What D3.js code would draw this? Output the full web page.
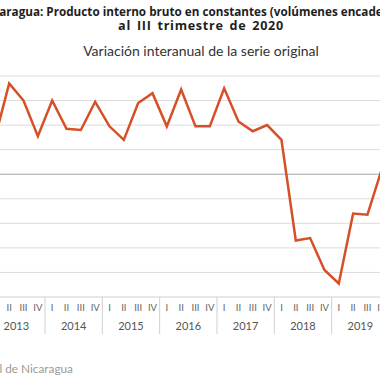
<!DOCTYPE html>
<html>
<head>
<meta charset="utf-8">
<script src="https://cdn.jsdelivr.net/npm/d3@7"></script>
<style>
  body { margin: 0; background: #fff; }
  svg { display: block; font-family: Lato, "Open Sans", sans-serif; }
</style>
</head>
<body>
<svg id="chart"></svg>
<script>
// données
var years = ["2013", "2014", "2015", "2016", "2017", "2018", "2019"];
var quarters = ["I", "II", "III", "IV"];
// variación interanual (%), 2013-I a 2019-IV
var values = [
  2.9, 7.4, 6.0, 3.1,
  6.0, 3.7, 3.6, 5.9,
  3.9, 2.8, 5.8, 6.6,
  3.9, 6.9, 3.9, 3.9,
  7.0, 4.3, 3.5, 4.0,
  2.8, -5.4, -5.2, -7.8,
  -8.9, -3.2, -3.3, 0.4
];
var yTicks = [-8, -6, -4, -2, 0, 2, 4, 6, 8];

var width = 380, height = 380;
var svg = d3.select("#chart").attr("width", width).attr("height", height);

// catégories trimestrielles
var keys = [];
years.forEach(function (yr) {
  quarters.forEach(function (q) { keys.push(yr + "-" + q); });
});
var data = keys.map(function (k, i) { return { key: k, value: values[i] }; });

// échelles
var step = 14.33;
var x = d3.scaleBand().domain(keys).range([-12.3, -12.3 + keys.length * step]);
var y = d3.scaleLinear().domain([-10, 8]).range([297, 76]);

// titres
svg.append("text")
  .attr("x", 201).attr("y", 16)
  .attr("text-anchor", "middle")
  .attr("font-family", "'Open Sans', sans-serif")
  .attr("font-size", 11.7).attr("font-weight", "bold").attr("fill", "#1e1e1e")
  .text("Nicaragua: Producto interno bruto en constantes (volúmenes encadenados)");
svg.append("text")
  .attr("x", 201).attr("y", 30)
  .attr("text-anchor", "middle")
  .attr("font-family", "'Open Sans', sans-serif")
  .attr("font-size", 12.6).attr("font-weight", "bold").attr("fill", "#1e1e1e")
  .style("letter-spacing", "0.7px")
  .style("word-spacing", "2px")
  .text("al III trimestre de 2020");
svg.append("text")
  .attr("x", 201).attr("y", 56)
  .attr("text-anchor", "middle")
  .attr("font-size", 14).attr("fill", "#333")
  .text("Variación interanual de la serie original");

// grille
svg.append("g").selectAll("line")
  .data(yTicks)
  .enter().append("line")
  .attr("x1", 0).attr("x2", width)
  .attr("y1", d => y(d)).attr("y2", d => y(d))
  .attr("stroke", d => d === 0 ? "#a6a6a6" : "#dcdcdc")
  .attr("stroke-width", 1);

// axe du bas
svg.append("line")
  .attr("x1", 0).attr("x2", width)
  .attr("y1", y(-10)).attr("y2", y(-10))
  .attr("stroke", "#d0d0d0");

// séparateurs d'années
svg.append("g").selectAll("line")
  .data(years)
  .enter().append("line")
  .attr("x1", d => x(d + "-I")).attr("x2", d => x(d + "-I"))
  .attr("y1", y(-10)).attr("y2", y(-10) + 37)
  .attr("stroke", "#d0d0d0");

// étiquettes trimestres
svg.append("g").selectAll("text")
  .data(keys)
  .enter().append("text")
  .attr("x", d => x(d) + x.bandwidth() / 2)
  .attr("y", y(-10) + 14)
  .attr("text-anchor", "middle")
  .attr("font-size", 9.5).attr("fill", "#666")
  .text(d => d.split("-")[1]);

// étiquettes années
svg.append("g").selectAll("text")
  .data(years)
  .enter().append("text")
  .attr("x", d => x(d + "-I") + 2 * step)
  .attr("y", y(-10) + 33)
  .attr("text-anchor", "middle")
  .attr("font-size", 11).attr("fill", "#555")
  .text(d => d);

// ligne
var line = d3.line()
  .x(d => x(d.key) + x.bandwidth() / 2)
  .y(d => y(d.value));
svg.append("path")
  .datum(data)
  .attr("fill", "none")
  .attr("stroke", "#d64f27")
  .attr("stroke-width", 2.5)
  .attr("stroke-linejoin", "miter")
  .attr("d", line);

// source
svg.append("text")
  .attr("x", 73).attr("y", 373)
  .attr("text-anchor", "end")
  .attr("font-size", 11.8).attr("fill", "#9a9a9a")
  .text("Fuente: Banco Central de Nicaragua");
</script>
</body>
</html>
